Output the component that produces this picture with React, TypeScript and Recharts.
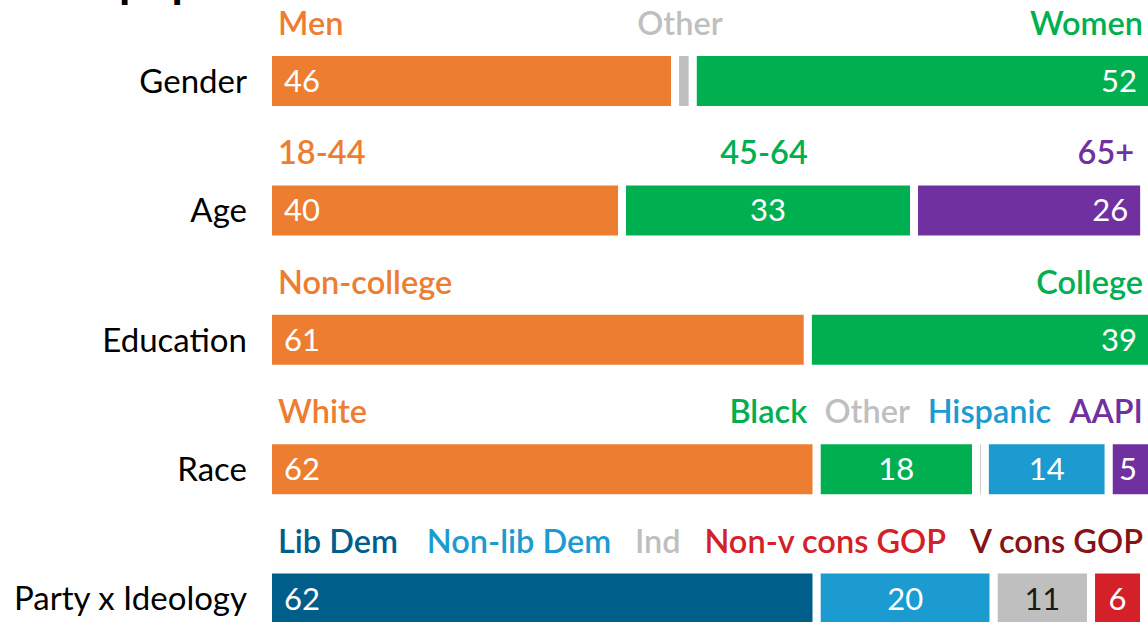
import React from "react"
import { BarChart, Bar, XAxis, YAxis, Cell, LabelList } from "recharts"

// rows of the chart
const categories = ["Gender", "Age", "Education", "Race", "Party x Ideology"]

// segment names shown above each bar, left to right
const segmentNames = [
    ["Men", "Other", "Women"],
    ["18-44", "45-64", "65+"],
    ["Non-college", "College"],
    ["White", "Black", "Other", "Hispanic", "AAPI"],
    ["Lib Dem", "Non-lib Dem", "Ind", "Non-v cons GOP", "V cons GOP"],
]

// share of sample, %
const segmentValues = [
    [46, 2, 52],
    [40, 33, 26],
    [61, 39],
    [62, 18, 1, 14, 5],
    [62, 20, 11, 6, 1],
]

// which segments print their number inside the bar
const showNumber = [
    [true, false, true],
    [true, true, true],
    [true, true],
    [true, true, false, true, true],
    [true, true, true, true, false],
]

const ORANGE = "#ED7D31"
const GREEN = "#00B050"
const PURPLE = "#7030A0"
const GRAY = "#BFBFBF"
const LIGHT_BLUE = "#1B9BCF"
const DARK_BLUE = "#005E8A"
const RED = "#D42029"
const DARK_RED = "#871316"

const segmentColors = [
    [ORANGE, GRAY, GREEN],
    [ORANGE, GREEN, PURPLE],
    [ORANGE, GREEN],
    [ORANGE, GREEN, GRAY, LIGHT_BLUE, PURPLE],
    [DARK_BLUE, LIGHT_BLUE, GRAY, RED, DARK_RED],
]

// how the names above a bar are laid out
const headerMode = ["bars", "bars", "bars", "flow", "flow"]

const FONT = "Lato, 'Noto Sans', sans-serif"
const MAX_SEGMENTS = 5

const rows = categories.map((name, i) => {
    const row: Record<string, any> = { name }
    for (let j = 0; j < MAX_SEGMENTS; j++) {
        row["s" + j] = segmentValues[i][j] ?? 0
    }
    return row
})

function CategoryTick(props: any) {
    const { x, y, payload } = props
    return (
        <text x={x} y={y} dy={12} textAnchor="end" fontFamily={FONT} fontSize={33} fill="#000">
            {payload.value}
        </text>
    )
}

// label lists are keyed on the row name, so the row is found from it
function makeValueLabel(j: number) {
    return (props: any) => {
        const { x, y, width, height, value } = props
        const i = categories.indexOf(value)
        if (i < 0) return null
        const n = segmentValues[i].length
        if (j >= n || !showNumber[i][j]) return null
        const cy = y + height / 2 + 11
        let tx = x + width / 2
        let anchor = "middle"
        if (j === 0) {
            tx = x + 16
            anchor = "start"
        } else if (j === n - 1) {
            tx = x + width - 16
            anchor = "end"
        }
        const dark = segmentColors[i][j] === GRAY
        return (
            <text x={tx} y={cy} textAnchor={anchor} fontFamily={FONT} fontSize={31} fill={dark ? "#1a1a1a" : "#fff"}>
                {segmentValues[i][j]}
            </text>
        )
    }
}

function makeHeaderLabel(j: number) {
    return (props: any) => {
        const { x, y, width, value } = props
        const i = categories.indexOf(value)
        if (i < 0) return null
        const names = segmentNames[i]
        const colors = segmentColors[i]
        const n = names.length
        if (j >= n) return null
        const ty = y - 17
        const common = { fontFamily: FONT, fontSize: 32.5, fontWeight: 600 }
        if (j === 0) {
            return (
                <text x={x + 10} y={ty} textAnchor="start" fill={colors[0]} {...common}>
                    {names[0]}
                </text>
            )
        }
        if (headerMode[i] === "flow") {
            if (j !== n - 1) return null
            const gap = i === 4 ? 24 : 18
            return (
                <text x={x + width - 10} y={ty} textAnchor="end" {...common}>
                    {names.slice(1).map((nm, k) => (
                        <tspan key={nm} dx={k === 0 ? 0 : gap} fill={colors[k + 1]}>
                            {nm}
                        </tspan>
                    ))}
                </text>
            )
        }
        if (j === n - 1) {
            return (
                <text x={x + width - 10} y={ty} textAnchor="end" fill={colors[j]} {...common}>
                    {names[j]}
                </text>
            )
        }
        return (
            <text x={x + width / 2 - 4} y={ty} textAnchor="middle" fill={colors[j]} {...common}>
                {names[j]}
            </text>
        )
    }
}

export default function App() {
    const keys = Array.from({ length: MAX_SEGMENTS }, (_, j) => "s" + j)
    return (
        <div style={{ position: "absolute", left: 0, top: 0, width: 1148, height: 622, overflow: "hidden", background: "#fff" }}>
            <svg width={1148} height={20} style={{ position: "absolute", left: 0, top: 0 }}>
                <text x={112} y={-3} textAnchor="end" fontFamily={FONT} fontSize={46} fontWeight={700} fill="#000">
                    Voter
                </text>
                <text x={119} y={-3} textAnchor="start" fontFamily={FONT} fontSize={46} fontWeight={700} fill="#000">
                    population
                </text>
            </svg>
            <BarChart
                width={1153}
                height={663}
                data={rows}
                layout="vertical"
                margin={{ top: 16, right: 0, bottom: 0, left: 0 }}
                barCategoryGap={0}
            >
                <XAxis type="number" domain={[0, 100]} hide />
                <YAxis
                    type="category"
                    dataKey="name"
                    width={268}
                    axisLine={false}
                    tickLine={false}
                    tickMargin={15}
                    tick={<CategoryTick />}
                />
                {keys.map((k, j) => (
                    <Bar
                        key={k}
                        dataKey={k}
                        stackId="a"
                        barSize={58}
                        stroke="#fff"
                        strokeWidth={8}
                        isAnimationActive={false}
                    >
                        {rows.map((_, i) => (
                            <Cell key={i} fill={segmentColors[i][j] || "#fff"} />
                        ))}
                        <LabelList dataKey="name" content={makeValueLabel(j)} />
                        <LabelList dataKey="name" content={makeHeaderLabel(j)} />
                    </Bar>
                ))}
            </BarChart>
        </div>
    )
}
